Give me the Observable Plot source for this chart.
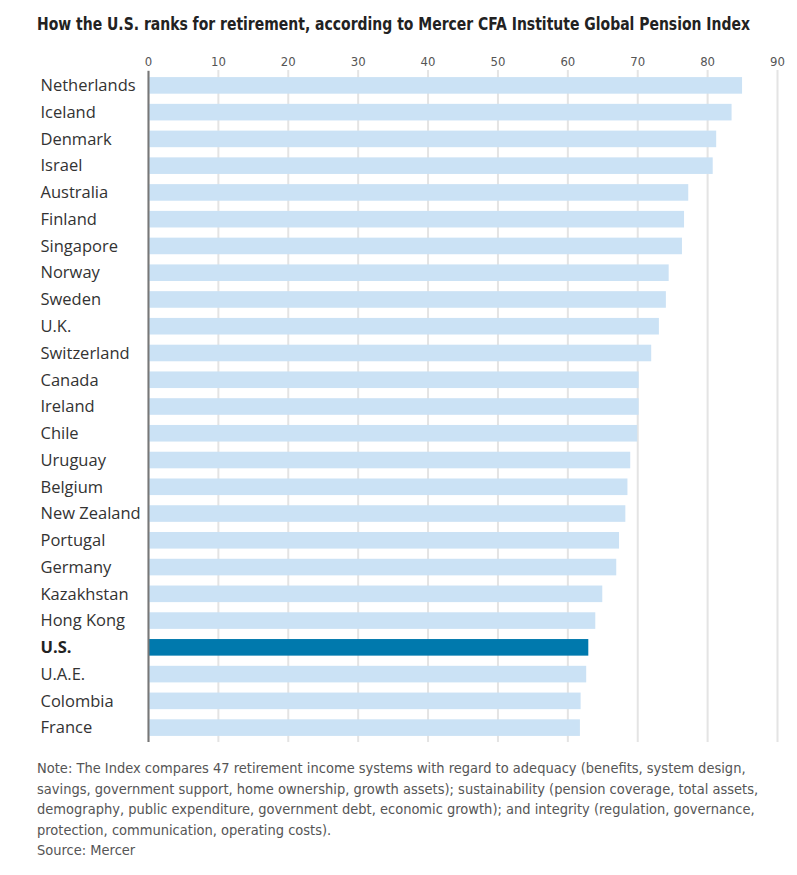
<!DOCTYPE html>
<html>
<head>
<meta charset="utf-8">
<script src="https://cdn.jsdelivr.net/npm/d3@7"></script>
<script src="https://cdn.jsdelivr.net/npm/@observablehq/plot@0.6"></script>
<style>
  body { margin: 0; background: #fff; width: 797px; }
  #titlebox { height: 40px; padding: 0; position: relative; }
  #title { position: absolute; left: 37px; top: 14px; white-space: nowrap; transform-origin: 0 0; font-family: "DejaVu Sans Condensed", "Liberation Sans Narrow", Roboto, sans-serif; font-weight: bold; font-size: 17px; color: #222; }
  #chart { height: 710px; }
  #note { font-family: "DejaVu Sans Condensed", "Liberation Sans Narrow", Roboto, sans-serif; font-size: 14.5px; color: #555; padding: 8px 20px 0 37px; line-height: 20.5px; }
</style>
</head>
<body>
<div id="titlebox"><span id="title">How the U.S. ranks for retirement, according to Mercer CFA Institute Global Pension Index</span></div>
<div id="chart"></div>
<div id="note">Note: The Index compares 47 retirement income systems with regard to adequacy (benefits, system design, savings, government support, home ownership, growth assets); sustainability (pension coverage, total assets, demography, public expenditure, government debt, economic growth); and integrity (regulation, governance, protection, communication, operating costs).<br>Source: Mercer</div>
<script>
const countries = ["Netherlands","Iceland","Denmark","Israel","Australia","Finland","Singapore","Norway","Sweden","U.K.","Switzerland","Canada","Ireland","Chile","Uruguay","Belgium","New Zealand","Portugal","Germany","Kazakhstan","Hong Kong","U.S.","U.A.E.","Colombia","France"];
const scores = [85.0,83.5,81.3,80.8,77.3,76.7,76.4,74.5,74.1,73.1,72.0,70.2,70.2,70.0,69.0,68.6,68.3,67.4,67.0,65.0,64.0,63.0,62.7,61.9,61.8];
const highlight = "U.S.";
const xTicks = [0,10,20,30,40,50,60,70,80,90];

const data = countries.map((c, i) => ({country: c, score: scores[i]}));
const labelFont = "\"Open Sans\", Roboto, sans-serif";
const narrowFont = "\"DejaVu Sans Condensed\", \"Liberation Sans Narrow\", Roboto, sans-serif";

const chart = Plot.plot({
  width: 797,
  height: 710,
  marginTop: 32,
  marginBottom: 9,
  marginLeft: 148,
  marginRight: 20,
  style: {fontFamily: labelFont, background: "#fff"},
  x: {domain: [0, 90], axis: null},
  y: {domain: countries, paddingInner: 0.38, paddingOuter: 0.19, round: false, axis: null},
  marks: [
    Plot.ruleX(xTicks, {stroke: "#e4e4e4", strokeWidth: 2, insetTop: -2, insetBottom: -1}),
    Plot.axisX({anchor: "top", ticks: xTicks, tickSize: 0, tickPadding: 7, fontSize: 13, fill: "#555", fontFamily: narrowFont, label: null}),
    Plot.barX(data, {x: "score", y: "country", fill: d => d.country === highlight ? "#0079ad" : "#cbe2f5"}),
    Plot.ruleX([0], {stroke: "#777", strokeWidth: 2, insetTop: -1, insetBottom: -1}),
    Plot.text(data.filter(d => d.country !== highlight), {x: 0, y: "country", text: "country", textAnchor: "start", dx: -108, fontSize: 16.5, fill: "#333"}),
    Plot.text(data.filter(d => d.country === highlight), {x: 0, y: "country", text: "country", textAnchor: "start", dx: -108, fontSize: 16.5, fill: "#222", fontWeight: "bold"})
  ]
});
document.getElementById("chart").appendChild(chart);

// fit the title to the reference width
const t = document.getElementById("title");
const w = t.getBoundingClientRect().width;
t.style.transform = `scaleX(${713 / w})`;
</script>
</body>
</html>
